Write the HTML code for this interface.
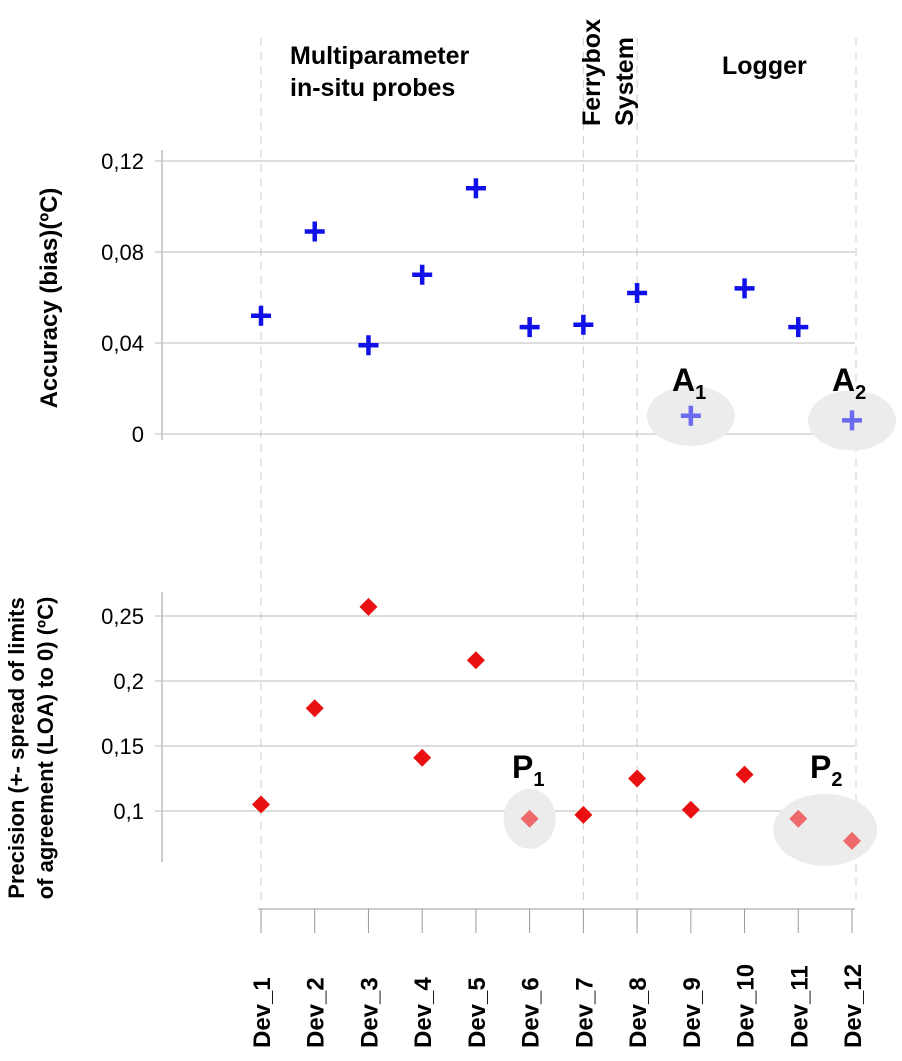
<!DOCTYPE html>
<html><head><meta charset="utf-8"><style>
body{margin:0;background:#fff;}
svg{display:block;font-family:"Liberation Sans",Arial,sans-serif;}
</style></head><body>
<svg id="chart" width="902" height="1061" viewBox="0 0 902 1061">
<g id="bg"></g><g id="marks"></g>
<text x="290" y="64" font-size="25" font-weight="bold">Multiparameter</text>
<text x="290" y="96" font-size="25" font-weight="bold">in-situ probes</text>
<text transform="translate(600,126) rotate(-90)" font-size="25" font-weight="bold">Ferrybox</text>
<text transform="translate(633,126) rotate(-90)" font-size="25" font-weight="bold">System</text>
<text x="722" y="74" font-size="25" font-weight="bold">Logger</text>
<text transform="translate(57,298) rotate(-90)" text-anchor="middle" font-size="24" font-weight="bold">Accuracy (bias)(ºC)</text>
<text transform="translate(24,748) rotate(-90)" text-anchor="middle" font-size="22" font-weight="bold">Precision (+- spread of limits</text>
<text transform="translate(53,748) rotate(-90)" text-anchor="middle" font-size="22" font-weight="bold">of agreement (LOA) to 0) (ºC)</text>
<text x="672" y="391" font-size="32" font-weight="bold">A<tspan font-size="20" dy="8">1</tspan></text>
<text x="832" y="391" font-size="32" font-weight="bold">A<tspan font-size="20" dy="8">2</tspan></text>
<text x="512" y="778" font-size="32" font-weight="bold">P<tspan font-size="20" dy="8">1</tspan></text>
<text x="810" y="778" font-size="32" font-weight="bold">P<tspan font-size="20" dy="8">2</tspan></text>
</svg>
<script>
const categories=["Dev_1","Dev_2","Dev_3","Dev_4","Dev_5","Dev_6","Dev_7","Dev_8","Dev_9","Dev_10","Dev_11","Dev_12"];
const accuracy=[0.052,0.089,0.039,0.070,0.108,0.047,0.048,0.062,0.008,0.064,0.047,0.006];
const precision=[0.105,0.179,0.257,0.141,0.216,0.094,0.097,0.125,0.101,0.128,0.094,0.077];
const accTicks=[0,0.04,0.08,0.12];
const accTickLabels=["0","0,04","0,08","0,12"];
const precTicks=[0.1,0.15,0.2,0.25];
const precTickLabels=["0,1","0,15","0,2","0,25"];
const highlightedAcc=[8,11];
const ns="http://www.w3.org/2000/svg";
const bg=document.getElementById('bg'),mk=document.getElementById('marks');
const xs=i=>261+i*(852-261)/11;
const ya=v=>434-v*(434-161)/0.12;
const yp=v=>811-(v-0.1)*(811-616)/0.15;
function el(t,a,p){const e=document.createElementNS(ns,t);for(const k in a)e.setAttribute(k,a[k]);p.appendChild(e);return e;}
[0,6,7,11].forEach(i=>{const l=el('line',{x1:xs(i)+(i==11?4:0),x2:xs(i)+(i==11?4:0),y1:38,y2:905,stroke:'#ccc','stroke-dasharray':'8,6'},bg);
});
let l=el('line',{x1:162,x2:162,y1:150,y2:440,stroke:'#999'},bg);

accTicks.forEach((t,i)=>{const g=el('line',{x1:155,x2:855,y1:ya(t),y2:ya(t),stroke:'#bbb'},bg);

const tx=el('text',{x:144,y:ya(t)+8,'text-anchor':'end','font-size':22},bg);tx.textContent=accTickLabels[i];
});
l=el('line',{x1:162,x2:162,y1:592,y2:862,stroke:'#999'},bg);

precTicks.forEach((t,i)=>{const g=el('line',{x1:155,x2:855,y1:yp(t),y2:yp(t),stroke:'#bbb'},bg);

const tx=el('text',{x:144,y:yp(t)+8,'text-anchor':'end','font-size':22},bg);tx.textContent=precTickLabels[i];
});
[[8,accuracy,ya,44,30],[11,accuracy,ya,44,30]].forEach(([i,arr,f,rx,ry])=>{const e=el('ellipse',{cx:xs(i),cy:f(arr[i]),rx:rx,ry:ry,fill:'#ececec'},bg);
});
let e=el('ellipse',{cx:xs(5),cy:yp(precision[5]),rx:26,ry:30,fill:'#ececec'},bg);

e=el('ellipse',{cx:(xs(10)+xs(11))/2,cy:(yp(precision[10])+yp(precision[11]))/2,rx:52,ry:36,fill:'#ececec'},bg);

l=el('line',{x1:258,x2:855,y1:909,y2:909,stroke:'#999'},bg);

categories.forEach((c,i)=>{const t=el('line',{x1:xs(i),x2:xs(i),y1:909,y2:933,stroke:'#999'},bg);

const tx=el('text',{transform:`translate(${xs(i)+9},1048) rotate(-90)`,'font-size':24,'font-weight':'bold'},bg);tx.textContent=c;
});
accuracy.forEach((v,i)=>{const x=xs(i),y=ya(v);const faded=highlightedAcc.includes(i);
const p=el('path',{d:`M${x-10},${y}H${x+10}M${x},${y-10}V${y+10}`,stroke:faded?'#6b6bf0':'#1010e8','stroke-width':4.5},mk);
});
precision.forEach((v,i)=>{const x=xs(i),y=yp(v);const faded=(i==5||i==10||i==11);
const p=el('path',{d:`M${x},${y-9}L${x+9},${y}L${x},${y+9}L${x-9},${y}Z`,fill:faded?'#ee6a6a':'#e81010'},mk);
});
</script>
</body></html>
